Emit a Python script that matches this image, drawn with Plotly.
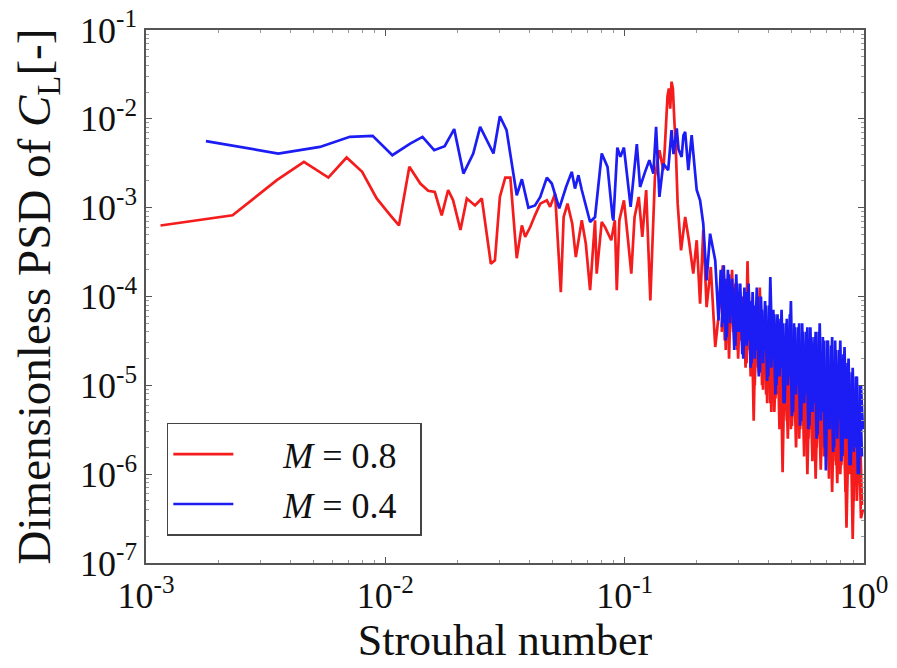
import plotly.graph_objects as go

# Strouhal number / PSD, M = 0.8 (red)
red_st = [0.00115, 0.0023, 0.00352, 0.00457, 0.00578, 0.00689, 0.008, 0.0092, 0.0105, 0.0114,
          0.0126, 0.014, 0.0151, 0.0161, 0.0172, 0.0183, 0.0192, 0.0206, 0.0219, 0.0237,
          0.0253, 0.0276, 0.0287, 0.0301, 0.0317, 0.0333, 0.0354, 0.0372, 0.0384, 0.0403,
          0.0422, 0.0444, 0.0473, 0.0488, 0.0512, 0.0524, 0.0541, 0.0556, 0.0577, 0.0604,
          0.0625, 0.0662, 0.0688, 0.0717, 0.0752, 0.0764, 0.0802, 0.0828, 0.0838, 0.0879,
          0.091, 0.0927, 0.095, 0.0993, 0.1033, 0.1066, 0.110, 0.1145, 0.1185, 0.123,
          0.128, 0.1338, 0.1397, 0.145, 0.147, 0.149, 0.151, 0.153, 0.155, 0.157,
          0.159, 0.1615, 0.163, 0.1665, 0.172, 0.179, 0.1855, 0.1935, 0.200, 0.2066,
          0.213, 0.220, 0.229, 0.239, 0.2466]
red_psd = [6.3e-4, 8.2e-4, 2.04e-3, 3.27e-3, 2.18e-3, 3.67e-3, 2.53e-3, 1.27e-3, 8.2e-4, 6.3e-4,
           2.88e-3, 1.87e-3, 1.55e-3, 1.50e-3, 8.2e-4, 1.58e-3, 1.21e-3, 5.6e-4, 1.27e-3, 1.06e-3,
           1.27e-3, 2.34e-4, 2.55e-4, 1.32e-3, 2.18e-3, 2.18e-3, 2.7e-4, 6.3e-4, 4.68e-4, 6.05e-4,
           8.2e-4, 1.11e-3, 1.21e-3, 1.02e-3, 1.44e-3, 5.1e-4, 1.12e-4, 7.85e-4, 1.11e-3, 6.6e-4,
           2.78e-4, 7.2e-4, 3.94e-4, 1.18e-4, 7.2e-4, 1.81e-4, 6.9e-4, 6.05e-4, 5.6e-4, 4.3e-4,
           7.2e-4, 1.18e-4, 7.2e-4, 1.21e-3, 4.3e-4, 1.81e-4, 7.85e-4, 1.32e-3, 4.68e-4, 1.58e-3,
           9.0e-5, 2.22e-3, 4.44e-3, 2.64e-3, 4.5e-3, 9.66e-3, 1.8e-2, 2.2e-2, 1.3e-2, 2.62e-2,
           2.2e-2, 8.87e-3, 6.0e-3, 1.11e-3, 3.3e-4, 7.85e-4, 4.3e-4, 1.81e-4, 4.3e-4, 8.3e-5,
           5.6e-4, 7.6e-5, 2.15e-4, 2.7e-5, 6.4e-5]

# M = 0.4 (blue)
blue_st = [0.00178, 0.00357, 0.00533, 0.00711, 0.00885, 0.0107, 0.0127, 0.0143, 0.016, 0.0177,
           0.0194, 0.0212, 0.0233, 0.0249, 0.0283, 0.0301, 0.0321, 0.0354, 0.0372, 0.0396,
           0.0422, 0.0444, 0.0473, 0.0496, 0.0533, 0.0569, 0.0601, 0.062, 0.0641, 0.0662,
           0.0717, 0.0752, 0.0802, 0.0841, 0.0848, 0.089, 0.0897, 0.0932, 0.096, 0.0993,
           0.1059, 0.1124, 0.116, 0.1217, 0.1268, 0.1318, 0.1353, 0.1397, 0.145, 0.152,
           0.157, 0.160, 0.165, 0.168, 0.173, 0.176, 0.179, 0.1845, 0.1905, 0.200,
           0.2066, 0.213, 0.220, 0.2275, 0.239, 0.2466]
blue_psd = [5.6e-3, 4.07e-3, 4.83e-3, 6.27e-3, 6.44e-3, 3.9e-3, 5.27e-3, 6.27e-3, 4.44e-3, 4.92e-3,
            7.66e-3, 2.42e-3, 4.07e-3, 8.13e-3, 4.07e-3, 1.07e-2, 7.46e-3, 1.38e-3, 2.09e-3, 1.0e-3,
            1.06e-3, 1.32e-3, 2.18e-3, 1.87e-3, 9.8e-4, 1.71e-3, 2.53e-3, 1.64e-3, 2.32e-3, 1.58e-3,
            6.9e-4, 7.85e-4, 4.07e-3, 3.14e-3, 2.88e-3, 7.85e-4, 7.2e-4, 4.75e-3, 3.73e-3, 4.75e-3,
            1.02e-3, 5.19e-3, 1.71e-3, 2.53e-3, 3.42e-3, 2.42e-3, 8.13e-3, 1.32e-3, 3.14e-3, 2.64e-3,
            7.46e-3, 4.0e-3, 7.8e-3, 4.5e-3, 3.73e-3, 6.5e-3, 7.13e-3, 2.64e-3, 6.55e-3, 1.58e-3,
            1.21e-3, 6.6e-4, 1.52e-4, 5.1e-4, 2.55e-4, 5.37e-5]

# dense high-frequency tail, both runs
tail_st = [0.252, 0.257, 0.262, 0.267, 0.273, 0.278, 0.284, 0.290, 0.295, 0.301,
           0.307, 0.313, 0.320, 0.326, 0.333, 0.339, 0.346, 0.353, 0.360, 0.367,
           0.375, 0.382, 0.390, 0.398, 0.406, 0.414, 0.422, 0.431, 0.439, 0.448,
           0.457, 0.466, 0.476, 0.485, 0.495, 0.505, 0.515, 0.525, 0.536, 0.546,
           0.557, 0.568, 0.580, 0.591, 0.603, 0.615, 0.628, 0.640, 0.653, 0.666,
           0.680, 0.693, 0.707, 0.721, 0.736, 0.750, 0.765, 0.781, 0.796, 0.812,
           0.829, 0.845, 0.862, 0.880, 0.897, 0.915, 0.934, 0.952, 0.971, 0.990]
red_tail = [1.0e-4, 2.24e-4, 3.2e-5, 1.58e-4, 2.0e-5, 1.26e-4, 4.0e-5, 1.4e-4, 2.5e-5, 1.12e-4,
            3.2e-5, 1.0e-4, 1.58e-5, 2.5e-4, 2.5e-5, 7.9e-5, 4.0e-6, 6.3e-5, 1.58e-5, 1.26e-4,
            1.0e-5, 5.0e-5, 7.9e-6, 4.0e-5, 6.3e-6, 3.2e-5, 5.0e-6, 2.8e-5, 7.9e-6, 2.5e-5,
            1.05e-6, 2.0e-5, 4.0e-6, 2.24e-5, 3.2e-6, 1.58e-5, 5.0e-6, 1.78e-5, 2.5e-6, 1.26e-5,
            4.0e-6, 1.4e-5, 1.0e-6, 1.0e-5, 3.2e-6, 1.26e-5, 8.9e-7, 7.9e-6, 2.5e-6, 1.0e-5,
            1.58e-6, 7.9e-6, 2.0e-6, 6.3e-6, 6.3e-7, 6.3e-6, 1.26e-6, 5.6e-6, 1.0e-6, 5.0e-6,
            4.5e-6, 2.5e-7, 3.2e-6, 4.0e-6, 1.86e-7, 3.2e-6, 5.0e-7, 3.2e-6, 3.2e-7, 4.0e-7]
blue_tail = [2.0e-4, 5.0e-5, 1.58e-4, 3.5e-5, 1.78e-4, 6.3e-5, 1.26e-4, 2.8e-5, 1.4e-4, 4.0e-5,
             1.0e-4, 2.0e-5, 1.12e-4, 3.2e-5, 8.9e-5, 1.78e-5, 7.9e-5, 2.5e-5, 1.0e-4, 1.4e-5,
             7.1e-5, 2.5e-5, 7.9e-5, 1.26e-5, 1.66e-4, 2.0e-5, 6.3e-5, 1.0e-5, 5.6e-5, 1.58e-5,
             5.0e-5, 6.3e-6, 5.6e-5, 1.26e-5, 8.9e-5, 5.0e-6, 4.5e-5, 1.0e-5, 5.0e-5, 4.0e-6,
             4.0e-5, 7.9e-6, 4.5e-5, 3.5e-6, 3.5e-5, 6.3e-6, 4.0e-5, 2.8e-6, 5.0e-5, 5.0e-6,
             3.2e-5, 1.1e-6, 3.2e-5, 3.2e-6, 3.5e-5, 2.0e-6, 2.5e-5, 4.0e-6, 3.2e-5, 1.6e-6,
             2.7e-5, 2.5e-6, 2.0e-5, 1.26e-6, 1.58e-5, 2.0e-6, 1.26e-5, 1.0e-6, 1.0e-5, 3.2e-6]

# in-between samples of the tail (the spectrum is much denser than one point per pixel)
tail_st2 = [0.2545, 0.2595, 0.2645, 0.270, 0.2755, 0.281, 0.287, 0.2925, 0.298, 0.304,
            0.310, 0.3165, 0.323, 0.3295, 0.336, 0.3425, 0.3495, 0.3565, 0.3635, 0.371,
            0.3785, 0.386, 0.394, 0.402, 0.410, 0.418, 0.4265, 0.435, 0.4435, 0.4525,
            0.4615, 0.471, 0.4805, 0.490, 0.500, 0.510, 0.520, 0.5305, 0.541, 0.5515,
            0.5625, 0.574, 0.5855, 0.597, 0.609, 0.6215, 0.634, 0.6465, 0.6595, 0.673,
            0.6865, 0.700, 0.714, 0.7285, 0.743, 0.7575, 0.773, 0.7885, 0.804, 0.8205,
            0.837, 0.8535, 0.871, 0.8885, 0.906, 0.9245, 0.943, 0.9615, 0.9805]
red_tail2 = [4.0e-5, 1.78e-4, 2.5e-5, 1.58e-4, 5.0e-5, 2.0e-4, 3.2e-5, 1.26e-4, 2.0e-5, 1.12e-4,
             2.8e-5, 1.0e-4, 1.78e-5, 1.26e-4, 1.26e-5, 7.9e-5, 1.0e-5, 6.3e-5, 1.4e-5, 5.6e-5,
             8.9e-6, 4.5e-5, 6.3e-6, 4.0e-5, 5.0e-6, 3.5e-5, 7.1e-6, 3.2e-5, 3.2e-6, 2.5e-5,
             5.0e-6, 2.0e-5, 2.5e-6, 1.78e-5, 3.5e-6, 1.58e-5, 2.0e-6, 1.4e-5, 3.2e-6, 1.26e-5,
             1.58e-6, 1.12e-5, 2.5e-6, 1.0e-5, 1.4e-6, 1.0e-5, 2.0e-6, 8.9e-6, 1.12e-6, 7.9e-6,
             1.78e-6, 7.1e-6, 8.9e-7, 6.3e-6, 1.4e-6, 6.3e-6, 7.9e-7, 5.6e-6, 1.26e-6, 5.0e-6,
             6.3e-7, 4.5e-6, 1.0e-6, 4.0e-6, 5.0e-7, 4.0e-6, 7.9e-7, 3.5e-6, 4.5e-7]
blue_tail2 = [4.5e-5, 2.24e-4, 3.2e-5, 2.0e-4, 5.0e-5, 1.58e-4, 2.5e-5, 1.78e-4, 4.0e-5, 1.4e-4,
              2.24e-5, 1.26e-4, 2.8e-5, 1.4e-4, 1.58e-5, 1.12e-4, 2.0e-5, 1.26e-4, 1.26e-5, 1.0e-4,
              1.78e-5, 8.9e-5, 1.12e-5, 7.9e-5, 1.58e-5, 7.1e-5, 7.9e-6, 6.3e-5, 1.26e-5, 7.1e-5,
              6.3e-6, 5.0e-5, 1.0e-5, 6.3e-5, 4.5e-6, 5.0e-5, 7.9e-6, 4.5e-5, 3.5e-6, 5.0e-5,
              6.3e-6, 4.0e-5, 3.2e-6, 4.5e-5, 5.0e-6, 3.5e-5, 2.5e-6, 4.0e-5, 4.0e-6, 3.5e-5,
              2.0e-6, 3.2e-5, 3.2e-6, 2.8e-5, 1.78e-6, 3.2e-5, 2.5e-6, 2.5e-5, 1.4e-6, 2.24e-5,
              2.5e-6, 1.78e-5, 1.26e-6, 1.4e-5, 1.78e-6, 1.26e-5, 1.0e-6, 1.0e-5, 1.58e-6]

xticks = [0.001, 0.01, 0.1, 1]
xticklabels = ["10<sup>-3</sup>", "10<sup>-2</sup>", "10<sup>-1</sup>", "10<sup>0</sup>"]
yticks = [1e-7, 1e-6, 1e-5, 1e-4, 1e-3, 1e-2, 1e-1]
yticklabels = ["10<sup>-7</sup>", "10<sup>-6</sup>", "10<sup>-5</sup>", "10<sup>-4</sup>",
               "10<sup>-3</sup>", "10<sup>-2</sup>", "10<sup>-1</sup>"]

serif = "Liberation Serif"
axcol = "#555555"
nb = "\u00a0"

# None breaks the line between the main run and the in-between tail samples
fig = go.Figure()
fig.add_trace(go.Scatter(x=red_st + tail_st + [None] + tail_st2,
                         y=red_psd + red_tail + [None] + red_tail2, mode="lines",
                         name=nb * 5 + "<i>M</i> = 0.8" + nb * 2,
                         line=dict(color="#f41c1c", width=2.7)))
fig.add_trace(go.Scatter(x=blue_st + tail_st + [None] + tail_st2,
                         y=blue_psd + blue_tail + [None] + blue_tail2, mode="lines",
                         name=nb * 5 + "<i>M</i> = 0.4" + nb * 2,
                         line=dict(color="#1c1cf4", width=2.7)))

axis_common = dict(type="log", showgrid=False, zeroline=False, showline=True, linecolor=axcol,
                   linewidth=1.5, mirror="ticks", ticks="inside", ticklen=6, tickcolor=axcol,
                   automargin=False, ticklabeloverflow="allow",
                   minor=dict(ticks="inside", ticklen=3, tickcolor="#999999", showgrid=False,
                              dtick="D1"),
                   tickfont=dict(family=serif, size=36, color="#111111"))

fig.update_xaxes(range=[-3, 0], tickvals=xticks, ticktext=xticklabels,
                 title=dict(text="Strouhal number", font=dict(family=serif, size=44, color="#111111"),
                            standoff=6),
                 **axis_common)
fig.update_yaxes(range=[-7, -1], tickvals=yticks, ticktext=yticklabels,
                 title=dict(text="Dimensionless PSD of <i>C</i><sub>L</sub>[-]",
                            font=dict(family=serif, size=47, color="#111111"), standoff=22),
                 **axis_common)

# page body adds an 8px offset, so the figure is a little smaller than the window
fig.update_layout(
    width=889, height=660,
    margin=dict(l=138, r=33, t=22, b=105),
    plot_bgcolor="white", paper_bgcolor="white",
    showlegend=True,
    legend=dict(x=0.029, y=0.263, xanchor="left", yanchor="top",
                bordercolor="#444444", borderwidth=1.5, bgcolor="white",
                font=dict(family=serif, size=36, color="#111111"), itemwidth=60),
)

fig.write_html("out.html")
